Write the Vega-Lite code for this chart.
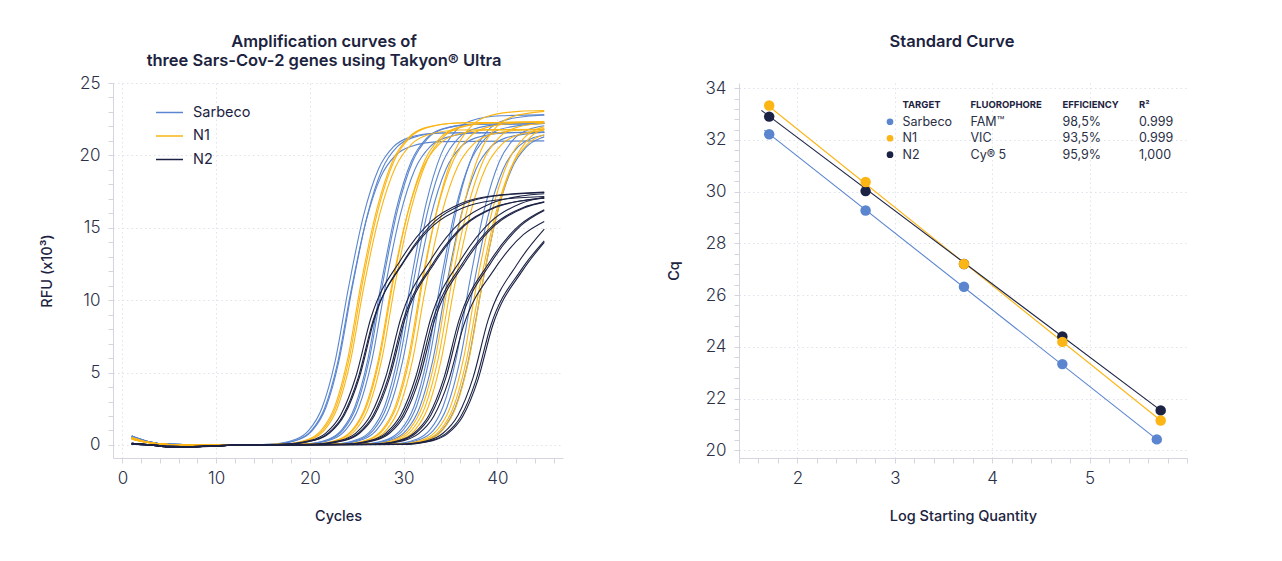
{
  "$schema": "https://vega.github.io/schema/vega-lite/v6.json",
  "background": "white",
  "padding": {"left": 39, "top": 33, "right": 10, "bottom": 10},
  "spacing": 176,
  "bounds": "flush",
  "config": {
    "view": {"stroke": null},
    "font": "Inter",
    "title": {"font": "Inter", "fontSize": 16.5, "fontWeight": 600, "color": "#1c2340", "anchor": "middle", "lineHeight": 19.5},
    "axis": {
      "domainColor": "#d3d6df",
      "tickColor": "#d3d6df",
      "tickSize": 5,
      "gridColor": "#e1e3ea",
      "gridDash": [1.5, 3],
      "labelFont": "Inter",
      "labelFontSize": 17,
      "labelFontWeight": 300,
      "labelColor": "#2b3048",
      "labelOverlap": false,
      "labelFlush": false,
      "titleFont": "Inter",
      "titleFontSize": 14.5,
      "titleFontWeight": 500,
      "titleColor": "#1c2340"
    },
    "axisX": {"labelPadding": 7.5, "titlePadding": 23},
    "axisY": {"labelPadding": 8}
  },
  "resolve": {"scale": {"color": "independent"}, "legend": {"color": "independent"}},
  "datasets": {
    "curves": [
      {"g":"Sarbeco","r":"B1a","x":1,"y":0.62},{"g":"Sarbeco","r":"B1a","x":2.5,"y":0.28},{"g":"Sarbeco","r":"B1a","x":5,"y":0.04},{"g":"Sarbeco","r":"B1a","x":11,"y":0},{"g":"Sarbeco","r":"B1a","x":15.7,"y":0.05},{"g":"Sarbeco","r":"B1a","x":18.5,"y":0.39},{"g":"Sarbeco","r":"B1a","x":19.9,"y":1.02},{"g":"Sarbeco","r":"B1a","x":21.3,"y":2.57},{"g":"Sarbeco","r":"B1a","x":22.7,"y":5.81},{"g":"Sarbeco","r":"B1a","x":24.1,"y":10.8},{"g":"Sarbeco","r":"B1a","x":25.7,"y":15.79},{"g":"Sarbeco","r":"B1a","x":27.3,"y":19.03},{"g":"Sarbeco","r":"B1a","x":28.9,"y":20.58},{"g":"Sarbeco","r":"B1a","x":30.5,"y":21.21},{"g":"Sarbeco","r":"B1a","x":33.7,"y":21.55},{"g":"Sarbeco","r":"B1a","x":45,"y":21.6},
      {"g":"Sarbeco","r":"B1b","x":1,"y":0.55},{"g":"Sarbeco","r":"B1b","x":2.5,"y":0.25},{"g":"Sarbeco","r":"B1b","x":5,"y":0.04},{"g":"Sarbeco","r":"B1b","x":11,"y":0},{"g":"Sarbeco","r":"B1b","x":15.95,"y":0.05},{"g":"Sarbeco","r":"B1b","x":18.75,"y":0.38},{"g":"Sarbeco","r":"B1b","x":20.15,"y":0.99},{"g":"Sarbeco","r":"B1b","x":21.55,"y":2.5},{"g":"Sarbeco","r":"B1b","x":22.95,"y":5.65},{"g":"Sarbeco","r":"B1b","x":24.35,"y":10.5},{"g":"Sarbeco","r":"B1b","x":25.95,"y":15.35},{"g":"Sarbeco","r":"B1b","x":27.55,"y":18.5},{"g":"Sarbeco","r":"B1b","x":29.15,"y":20.01},{"g":"Sarbeco","r":"B1b","x":30.75,"y":20.62},{"g":"Sarbeco","r":"B1b","x":33.95,"y":20.95},{"g":"Sarbeco","r":"B1b","x":45,"y":21.0},
      {"g":"Sarbeco","r":"B1c","x":1,"y":0.5},{"g":"Sarbeco","r":"B1c","x":2.5,"y":0.22},{"g":"Sarbeco","r":"B1c","x":5,"y":0.03},{"g":"Sarbeco","r":"B1c","x":11,"y":0},{"g":"Sarbeco","r":"B1c","x":16.1,"y":0.05},{"g":"Sarbeco","r":"B1c","x":18.9,"y":0.39},{"g":"Sarbeco","r":"B1c","x":20.3,"y":1.02},{"g":"Sarbeco","r":"B1c","x":21.7,"y":2.57},{"g":"Sarbeco","r":"B1c","x":23.1,"y":5.81},{"g":"Sarbeco","r":"B1c","x":24.5,"y":10.8},{"g":"Sarbeco","r":"B1c","x":26.1,"y":15.79},{"g":"Sarbeco","r":"B1c","x":27.7,"y":19.03},{"g":"Sarbeco","r":"B1c","x":29.3,"y":20.58},{"g":"Sarbeco","r":"B1c","x":30.9,"y":21.21},{"g":"Sarbeco","r":"B1c","x":34.1,"y":21.55},{"g":"Sarbeco","r":"B1c","x":45,"y":21.6},
      {"g":"Sarbeco","r":"B2a","x":1,"y":0.62},{"g":"Sarbeco","r":"B2a","x":2.5,"y":0.28},{"g":"Sarbeco","r":"B2a","x":5,"y":0.04},{"g":"Sarbeco","r":"B2a","x":11,"y":0},{"g":"Sarbeco","r":"B2a","x":19.2,"y":0.06},{"g":"Sarbeco","r":"B2a","x":22,"y":0.4},{"g":"Sarbeco","r":"B2a","x":23.4,"y":1.04},{"g":"Sarbeco","r":"B2a","x":24.8,"y":2.64},{"g":"Sarbeco","r":"B2a","x":26.2,"y":5.97},{"g":"Sarbeco","r":"B2a","x":27.6,"y":11.1},{"g":"Sarbeco","r":"B2a","x":29.2,"y":16.23},{"g":"Sarbeco","r":"B2a","x":30.8,"y":19.56},{"g":"Sarbeco","r":"B2a","x":32.4,"y":21.16},{"g":"Sarbeco","r":"B2a","x":34,"y":21.8},{"g":"Sarbeco","r":"B2a","x":37.2,"y":22.14},{"g":"Sarbeco","r":"B2a","x":45,"y":22.2},
      {"g":"Sarbeco","r":"B2b","x":1,"y":0.55},{"g":"Sarbeco","r":"B2b","x":2.5,"y":0.25},{"g":"Sarbeco","r":"B2b","x":5,"y":0.04},{"g":"Sarbeco","r":"B2b","x":11,"y":0},{"g":"Sarbeco","r":"B2b","x":19.35,"y":0.06},{"g":"Sarbeco","r":"B2b","x":22.15,"y":0.4},{"g":"Sarbeco","r":"B2b","x":23.55,"y":1.04},{"g":"Sarbeco","r":"B2b","x":24.95,"y":2.64},{"g":"Sarbeco","r":"B2b","x":26.35,"y":5.97},{"g":"Sarbeco","r":"B2b","x":27.75,"y":11.1},{"g":"Sarbeco","r":"B2b","x":29.35,"y":16.23},{"g":"Sarbeco","r":"B2b","x":30.95,"y":19.56},{"g":"Sarbeco","r":"B2b","x":32.55,"y":21.16},{"g":"Sarbeco","r":"B2b","x":34.15,"y":21.8},{"g":"Sarbeco","r":"B2b","x":37.35,"y":22.14},{"g":"Sarbeco","r":"B2b","x":45,"y":22.2},
      {"g":"Sarbeco","r":"B2c","x":1,"y":0.5},{"g":"Sarbeco","r":"B2c","x":2.5,"y":0.22},{"g":"Sarbeco","r":"B2c","x":5,"y":0.03},{"g":"Sarbeco","r":"B2c","x":11,"y":0},{"g":"Sarbeco","r":"B2c","x":19.6,"y":0.05},{"g":"Sarbeco","r":"B2c","x":22.4,"y":0.39},{"g":"Sarbeco","r":"B2c","x":23.8,"y":1.02},{"g":"Sarbeco","r":"B2c","x":25.2,"y":2.57},{"g":"Sarbeco","r":"B2c","x":26.6,"y":5.81},{"g":"Sarbeco","r":"B2c","x":28,"y":10.8},{"g":"Sarbeco","r":"B2c","x":29.6,"y":15.79},{"g":"Sarbeco","r":"B2c","x":31.2,"y":19.03},{"g":"Sarbeco","r":"B2c","x":32.8,"y":20.58},{"g":"Sarbeco","r":"B2c","x":34.4,"y":21.21},{"g":"Sarbeco","r":"B2c","x":37.6,"y":21.55},{"g":"Sarbeco","r":"B2c","x":45,"y":21.6},
      {"g":"Sarbeco","r":"B3a","x":1,"y":0.62},{"g":"Sarbeco","r":"B3a","x":2.5,"y":0.28},{"g":"Sarbeco","r":"B3a","x":5,"y":0.04},{"g":"Sarbeco","r":"B3a","x":11,"y":0},{"g":"Sarbeco","r":"B3a","x":22.4,"y":0.06},{"g":"Sarbeco","r":"B3a","x":25.2,"y":0.41},{"g":"Sarbeco","r":"B3a","x":26.6,"y":1.07},{"g":"Sarbeco","r":"B3a","x":28,"y":2.71},{"g":"Sarbeco","r":"B3a","x":29.4,"y":6.13},{"g":"Sarbeco","r":"B3a","x":30.8,"y":11.4},{"g":"Sarbeco","r":"B3a","x":32.4,"y":16.67},{"g":"Sarbeco","r":"B3a","x":34,"y":20.09},{"g":"Sarbeco","r":"B3a","x":35.6,"y":21.73},{"g":"Sarbeco","r":"B3a","x":37.2,"y":22.39},{"g":"Sarbeco","r":"B3a","x":40.4,"y":22.74},{"g":"Sarbeco","r":"B3a","x":45,"y":22.8},
      {"g":"Sarbeco","r":"B3b","x":1,"y":0.55},{"g":"Sarbeco","r":"B3b","x":2.5,"y":0.25},{"g":"Sarbeco","r":"B3b","x":5,"y":0.04},{"g":"Sarbeco","r":"B3b","x":11,"y":0},{"g":"Sarbeco","r":"B3b","x":22.6,"y":0.06},{"g":"Sarbeco","r":"B3b","x":25.4,"y":0.4},{"g":"Sarbeco","r":"B3b","x":26.8,"y":1.04},{"g":"Sarbeco","r":"B3b","x":28.2,"y":2.64},{"g":"Sarbeco","r":"B3b","x":29.6,"y":5.97},{"g":"Sarbeco","r":"B3b","x":31,"y":11.1},{"g":"Sarbeco","r":"B3b","x":32.6,"y":16.23},{"g":"Sarbeco","r":"B3b","x":34.2,"y":19.56},{"g":"Sarbeco","r":"B3b","x":35.8,"y":21.16},{"g":"Sarbeco","r":"B3b","x":37.4,"y":21.8},{"g":"Sarbeco","r":"B3b","x":40.6,"y":22.14},{"g":"Sarbeco","r":"B3b","x":45,"y":22.2},
      {"g":"Sarbeco","r":"B3c","x":1,"y":0.5},{"g":"Sarbeco","r":"B3c","x":2.5,"y":0.22},{"g":"Sarbeco","r":"B3c","x":5,"y":0.03},{"g":"Sarbeco","r":"B3c","x":11,"y":0},{"g":"Sarbeco","r":"B3c","x":22.9,"y":0.05},{"g":"Sarbeco","r":"B3c","x":25.7,"y":0.39},{"g":"Sarbeco","r":"B3c","x":27.1,"y":1.02},{"g":"Sarbeco","r":"B3c","x":28.5,"y":2.57},{"g":"Sarbeco","r":"B3c","x":29.9,"y":5.81},{"g":"Sarbeco","r":"B3c","x":31.3,"y":10.8},{"g":"Sarbeco","r":"B3c","x":32.9,"y":15.79},{"g":"Sarbeco","r":"B3c","x":34.5,"y":19.03},{"g":"Sarbeco","r":"B3c","x":36.1,"y":20.58},{"g":"Sarbeco","r":"B3c","x":37.7,"y":21.21},{"g":"Sarbeco","r":"B3c","x":40.9,"y":21.55},{"g":"Sarbeco","r":"B3c","x":45,"y":21.6},
      {"g":"Sarbeco","r":"B4a","x":1,"y":0.62},{"g":"Sarbeco","r":"B4a","x":2.5,"y":0.28},{"g":"Sarbeco","r":"B4a","x":5,"y":0.04},{"g":"Sarbeco","r":"B4a","x":11,"y":0},{"g":"Sarbeco","r":"B4a","x":25.5,"y":0.06},{"g":"Sarbeco","r":"B4a","x":28.3,"y":0.4},{"g":"Sarbeco","r":"B4a","x":29.7,"y":1.04},{"g":"Sarbeco","r":"B4a","x":31.1,"y":2.64},{"g":"Sarbeco","r":"B4a","x":32.5,"y":5.97},{"g":"Sarbeco","r":"B4a","x":33.9,"y":11.1},{"g":"Sarbeco","r":"B4a","x":35.5,"y":16.23},{"g":"Sarbeco","r":"B4a","x":37.1,"y":19.56},{"g":"Sarbeco","r":"B4a","x":38.7,"y":21.16},{"g":"Sarbeco","r":"B4a","x":40.3,"y":21.8},{"g":"Sarbeco","r":"B4a","x":43.5,"y":22.14},{"g":"Sarbeco","r":"B4a","x":45,"y":22.2},
      {"g":"Sarbeco","r":"B4b","x":1,"y":0.55},{"g":"Sarbeco","r":"B4b","x":2.5,"y":0.25},{"g":"Sarbeco","r":"B4b","x":5,"y":0.04},{"g":"Sarbeco","r":"B4b","x":11,"y":0},{"g":"Sarbeco","r":"B4b","x":25.8,"y":0.06},{"g":"Sarbeco","r":"B4b","x":28.6,"y":0.41},{"g":"Sarbeco","r":"B4b","x":30,"y":1.07},{"g":"Sarbeco","r":"B4b","x":31.4,"y":2.71},{"g":"Sarbeco","r":"B4b","x":32.8,"y":6.13},{"g":"Sarbeco","r":"B4b","x":34.2,"y":11.4},{"g":"Sarbeco","r":"B4b","x":35.8,"y":16.67},{"g":"Sarbeco","r":"B4b","x":37.4,"y":20.09},{"g":"Sarbeco","r":"B4b","x":39,"y":21.73},{"g":"Sarbeco","r":"B4b","x":40.6,"y":22.39},{"g":"Sarbeco","r":"B4b","x":43.8,"y":22.74},{"g":"Sarbeco","r":"B4b","x":45,"y":22.8},
      {"g":"Sarbeco","r":"B4c","x":1,"y":0.5},{"g":"Sarbeco","r":"B4c","x":2.5,"y":0.22},{"g":"Sarbeco","r":"B4c","x":5,"y":0.03},{"g":"Sarbeco","r":"B4c","x":11,"y":0},{"g":"Sarbeco","r":"B4c","x":26.1,"y":0.05},{"g":"Sarbeco","r":"B4c","x":28.9,"y":0.39},{"g":"Sarbeco","r":"B4c","x":30.3,"y":1.02},{"g":"Sarbeco","r":"B4c","x":31.7,"y":2.57},{"g":"Sarbeco","r":"B4c","x":33.1,"y":5.81},{"g":"Sarbeco","r":"B4c","x":34.5,"y":10.8},{"g":"Sarbeco","r":"B4c","x":36.1,"y":15.79},{"g":"Sarbeco","r":"B4c","x":37.7,"y":19.03},{"g":"Sarbeco","r":"B4c","x":39.3,"y":20.58},{"g":"Sarbeco","r":"B4c","x":40.9,"y":21.21},{"g":"Sarbeco","r":"B4c","x":44.1,"y":21.55},{"g":"Sarbeco","r":"B4c","x":45,"y":21.6},
      {"g":"Sarbeco","r":"B5a","x":1,"y":0.62},{"g":"Sarbeco","r":"B5a","x":2.5,"y":0.28},{"g":"Sarbeco","r":"B5a","x":5,"y":0.04},{"g":"Sarbeco","r":"B5a","x":11,"y":0},{"g":"Sarbeco","r":"B5a","x":28.6,"y":0.06},{"g":"Sarbeco","r":"B5a","x":31.4,"y":0.4},{"g":"Sarbeco","r":"B5a","x":32.8,"y":1.04},{"g":"Sarbeco","r":"B5a","x":34.2,"y":2.64},{"g":"Sarbeco","r":"B5a","x":35.6,"y":5.97},{"g":"Sarbeco","r":"B5a","x":37,"y":11.1},{"g":"Sarbeco","r":"B5a","x":38.6,"y":16.23},{"g":"Sarbeco","r":"B5a","x":40.2,"y":19.56},{"g":"Sarbeco","r":"B5a","x":41.8,"y":21.16},{"g":"Sarbeco","r":"B5a","x":43.4,"y":21.8},{"g":"Sarbeco","r":"B5a","x":45,"y":22.05},
      {"g":"Sarbeco","r":"B5b","x":1,"y":0.55},{"g":"Sarbeco","r":"B5b","x":2.5,"y":0.25},{"g":"Sarbeco","r":"B5b","x":5,"y":0.04},{"g":"Sarbeco","r":"B5b","x":11,"y":0},{"g":"Sarbeco","r":"B5b","x":29,"y":0.05},{"g":"Sarbeco","r":"B5b","x":31.8,"y":0.39},{"g":"Sarbeco","r":"B5b","x":33.2,"y":1.02},{"g":"Sarbeco","r":"B5b","x":34.6,"y":2.57},{"g":"Sarbeco","r":"B5b","x":36,"y":5.81},{"g":"Sarbeco","r":"B5b","x":37.4,"y":10.8},{"g":"Sarbeco","r":"B5b","x":39,"y":15.79},{"g":"Sarbeco","r":"B5b","x":40.6,"y":19.03},{"g":"Sarbeco","r":"B5b","x":42.2,"y":20.58},{"g":"Sarbeco","r":"B5b","x":43.8,"y":21.21},{"g":"Sarbeco","r":"B5b","x":45,"y":21.41},
      {"g":"Sarbeco","r":"B5c","x":1,"y":0.5},{"g":"Sarbeco","r":"B5c","x":2.5,"y":0.22},{"g":"Sarbeco","r":"B5c","x":5,"y":0.03},{"g":"Sarbeco","r":"B5c","x":11,"y":0},{"g":"Sarbeco","r":"B5c","x":29.9,"y":0.05},{"g":"Sarbeco","r":"B5c","x":32.7,"y":0.39},{"g":"Sarbeco","r":"B5c","x":34.1,"y":1.02},{"g":"Sarbeco","r":"B5c","x":35.5,"y":2.57},{"g":"Sarbeco","r":"B5c","x":36.9,"y":5.81},{"g":"Sarbeco","r":"B5c","x":38.3,"y":10.8},{"g":"Sarbeco","r":"B5c","x":39.9,"y":15.79},{"g":"Sarbeco","r":"B5c","x":41.5,"y":19.03},{"g":"Sarbeco","r":"B5c","x":43.1,"y":20.58},{"g":"Sarbeco","r":"B5c","x":44.7,"y":21.21},{"g":"Sarbeco","r":"B5c","x":45,"y":21.28},

      {"g":"N1","r":"Y1a","x":1,"y":0.5},{"g":"N1","r":"Y1a","x":2.5,"y":0.22},{"g":"N1","r":"Y1a","x":5,"y":0.03},{"g":"N1","r":"Y1a","x":11,"y":0},{"g":"N1","r":"Y1a","x":17.05,"y":0.06},{"g":"N1","r":"Y1a","x":19.85,"y":0.4},{"g":"N1","r":"Y1a","x":21.25,"y":1.05},{"g":"N1","r":"Y1a","x":22.65,"y":2.65},{"g":"N1","r":"Y1a","x":24.05,"y":6.0},{"g":"N1","r":"Y1a","x":25.45,"y":11.15},{"g":"N1","r":"Y1a","x":27.15,"y":16.3},{"g":"N1","r":"Y1a","x":28.85,"y":19.65},{"g":"N1","r":"Y1a","x":30.55,"y":21.25},{"g":"N1","r":"Y1a","x":32.25,"y":21.9},{"g":"N1","r":"Y1a","x":35.65,"y":22.24},{"g":"N1","r":"Y1a","x":45,"y":22.3},
      {"g":"N1","r":"Y1b","x":1,"y":0.45},{"g":"N1","r":"Y1b","x":2.5,"y":0.2},{"g":"N1","r":"Y1b","x":5,"y":0.03},{"g":"N1","r":"Y1b","x":11,"y":0},{"g":"N1","r":"Y1b","x":17.35,"y":0.05},{"g":"N1","r":"Y1b","x":20.15,"y":0.39},{"g":"N1","r":"Y1b","x":21.55,"y":1.02},{"g":"N1","r":"Y1b","x":22.95,"y":2.59},{"g":"N1","r":"Y1b","x":24.35,"y":5.86},{"g":"N1","r":"Y1b","x":25.75,"y":10.9},{"g":"N1","r":"Y1b","x":27.45,"y":15.94},{"g":"N1","r":"Y1b","x":29.15,"y":19.21},{"g":"N1","r":"Y1b","x":30.85,"y":20.78},{"g":"N1","r":"Y1b","x":32.55,"y":21.41},{"g":"N1","r":"Y1b","x":35.95,"y":21.75},{"g":"N1","r":"Y1b","x":45,"y":21.8},
      {"g":"N1","r":"Y1c","x":1,"y":0.42},{"g":"N1","r":"Y1c","x":2.5,"y":0.19},{"g":"N1","r":"Y1c","x":5,"y":0.02},{"g":"N1","r":"Y1c","x":11,"y":0},{"g":"N1","r":"Y1c","x":17.2,"y":0.06},{"g":"N1","r":"Y1c","x":20,"y":0.4},{"g":"N1","r":"Y1c","x":21.4,"y":1.05},{"g":"N1","r":"Y1c","x":22.8,"y":2.65},{"g":"N1","r":"Y1c","x":24.2,"y":6.0},{"g":"N1","r":"Y1c","x":25.6,"y":11.15},{"g":"N1","r":"Y1c","x":27.3,"y":16.3},{"g":"N1","r":"Y1c","x":29,"y":19.65},{"g":"N1","r":"Y1c","x":30.7,"y":21.25},{"g":"N1","r":"Y1c","x":32.4,"y":21.9},{"g":"N1","r":"Y1c","x":35.8,"y":22.24},{"g":"N1","r":"Y1c","x":45,"y":22.3},
      {"g":"N1","r":"Y2a","x":1,"y":0.5},{"g":"N1","r":"Y2a","x":2.5,"y":0.22},{"g":"N1","r":"Y2a","x":5,"y":0.03},{"g":"N1","r":"Y2a","x":11,"y":0},{"g":"N1","r":"Y2a","x":20.3,"y":0.05},{"g":"N1","r":"Y2a","x":23.1,"y":0.39},{"g":"N1","r":"Y2a","x":24.5,"y":1.02},{"g":"N1","r":"Y2a","x":25.9,"y":2.59},{"g":"N1","r":"Y2a","x":27.3,"y":5.86},{"g":"N1","r":"Y2a","x":28.7,"y":10.9},{"g":"N1","r":"Y2a","x":30.4,"y":15.94},{"g":"N1","r":"Y2a","x":32.1,"y":19.21},{"g":"N1","r":"Y2a","x":33.8,"y":20.78},{"g":"N1","r":"Y2a","x":35.5,"y":21.41},{"g":"N1","r":"Y2a","x":38.9,"y":21.75},{"g":"N1","r":"Y2a","x":45,"y":21.8},
      {"g":"N1","r":"Y2b","x":1,"y":0.45},{"g":"N1","r":"Y2b","x":2.5,"y":0.2},{"g":"N1","r":"Y2b","x":5,"y":0.03},{"g":"N1","r":"Y2b","x":11,"y":0},{"g":"N1","r":"Y2b","x":20.45,"y":0.06},{"g":"N1","r":"Y2b","x":23.25,"y":0.4},{"g":"N1","r":"Y2b","x":24.65,"y":1.05},{"g":"N1","r":"Y2b","x":26.05,"y":2.65},{"g":"N1","r":"Y2b","x":27.45,"y":6.0},{"g":"N1","r":"Y2b","x":28.85,"y":11.15},{"g":"N1","r":"Y2b","x":30.55,"y":16.3},{"g":"N1","r":"Y2b","x":32.25,"y":19.65},{"g":"N1","r":"Y2b","x":33.95,"y":21.25},{"g":"N1","r":"Y2b","x":35.65,"y":21.9},{"g":"N1","r":"Y2b","x":39.05,"y":22.24},{"g":"N1","r":"Y2b","x":45,"y":22.3},
      {"g":"N1","r":"Y2c","x":1,"y":0.42},{"g":"N1","r":"Y2c","x":2.5,"y":0.19},{"g":"N1","r":"Y2c","x":5,"y":0.02},{"g":"N1","r":"Y2c","x":11,"y":0},{"g":"N1","r":"Y2c","x":20.7,"y":0.06},{"g":"N1","r":"Y2c","x":23.5,"y":0.4},{"g":"N1","r":"Y2c","x":24.9,"y":1.05},{"g":"N1","r":"Y2c","x":26.3,"y":2.65},{"g":"N1","r":"Y2c","x":27.7,"y":6.0},{"g":"N1","r":"Y2c","x":29.1,"y":11.15},{"g":"N1","r":"Y2c","x":30.8,"y":16.3},{"g":"N1","r":"Y2c","x":32.5,"y":19.65},{"g":"N1","r":"Y2c","x":34.2,"y":21.25},{"g":"N1","r":"Y2c","x":35.9,"y":21.9},{"g":"N1","r":"Y2c","x":39.3,"y":22.24},{"g":"N1","r":"Y2c","x":45,"y":22.3},
      {"g":"N1","r":"Y3a","x":1,"y":0.5},{"g":"N1","r":"Y3a","x":2.5,"y":0.22},{"g":"N1","r":"Y3a","x":5,"y":0.03},{"g":"N1","r":"Y3a","x":11,"y":0},{"g":"N1","r":"Y3a","x":23.5,"y":0.06},{"g":"N1","r":"Y3a","x":26.3,"y":0.4},{"g":"N1","r":"Y3a","x":27.7,"y":1.05},{"g":"N1","r":"Y3a","x":29.1,"y":2.65},{"g":"N1","r":"Y3a","x":30.5,"y":6.0},{"g":"N1","r":"Y3a","x":31.9,"y":11.15},{"g":"N1","r":"Y3a","x":33.6,"y":16.3},{"g":"N1","r":"Y3a","x":35.3,"y":19.65},{"g":"N1","r":"Y3a","x":37,"y":21.25},{"g":"N1","r":"Y3a","x":38.7,"y":21.9},{"g":"N1","r":"Y3a","x":42.1,"y":22.24},{"g":"N1","r":"Y3a","x":45,"y":22.3},
      {"g":"N1","r":"Y3b","x":1,"y":0.45},{"g":"N1","r":"Y3b","x":2.5,"y":0.2},{"g":"N1","r":"Y3b","x":5,"y":0.03},{"g":"N1","r":"Y3b","x":11,"y":0},{"g":"N1","r":"Y3b","x":23.7,"y":0.06},{"g":"N1","r":"Y3b","x":26.5,"y":0.42},{"g":"N1","r":"Y3b","x":27.9,"y":1.09},{"g":"N1","r":"Y3b","x":29.3,"y":2.75},{"g":"N1","r":"Y3b","x":30.7,"y":6.21},{"g":"N1","r":"Y3b","x":32.1,"y":11.55},{"g":"N1","r":"Y3b","x":33.8,"y":16.89},{"g":"N1","r":"Y3b","x":35.5,"y":20.35},{"g":"N1","r":"Y3b","x":37.2,"y":22.01},{"g":"N1","r":"Y3b","x":38.9,"y":22.68},{"g":"N1","r":"Y3b","x":42.3,"y":23.04},{"g":"N1","r":"Y3b","x":45,"y":23.1},
      {"g":"N1","r":"Y3c","x":1,"y":0.42},{"g":"N1","r":"Y3c","x":2.5,"y":0.19},{"g":"N1","r":"Y3c","x":5,"y":0.02},{"g":"N1","r":"Y3c","x":11,"y":0},{"g":"N1","r":"Y3c","x":23.95,"y":0.05},{"g":"N1","r":"Y3c","x":26.75,"y":0.39},{"g":"N1","r":"Y3c","x":28.15,"y":1.02},{"g":"N1","r":"Y3c","x":29.55,"y":2.59},{"g":"N1","r":"Y3c","x":30.95,"y":5.86},{"g":"N1","r":"Y3c","x":32.35,"y":10.9},{"g":"N1","r":"Y3c","x":34.05,"y":15.94},{"g":"N1","r":"Y3c","x":35.75,"y":19.21},{"g":"N1","r":"Y3c","x":37.45,"y":20.78},{"g":"N1","r":"Y3c","x":39.15,"y":21.41},{"g":"N1","r":"Y3c","x":42.55,"y":21.75},{"g":"N1","r":"Y3c","x":45,"y":21.8},
      {"g":"N1","r":"Y4a","x":1,"y":0.5},{"g":"N1","r":"Y4a","x":2.5,"y":0.22},{"g":"N1","r":"Y4a","x":5,"y":0.03},{"g":"N1","r":"Y4a","x":11,"y":0},{"g":"N1","r":"Y4a","x":26.45,"y":0.06},{"g":"N1","r":"Y4a","x":29.25,"y":0.42},{"g":"N1","r":"Y4a","x":30.65,"y":1.09},{"g":"N1","r":"Y4a","x":32.05,"y":2.75},{"g":"N1","r":"Y4a","x":33.45,"y":6.21},{"g":"N1","r":"Y4a","x":34.85,"y":11.55},{"g":"N1","r":"Y4a","x":36.55,"y":16.89},{"g":"N1","r":"Y4a","x":38.25,"y":20.35},{"g":"N1","r":"Y4a","x":39.95,"y":22.01},{"g":"N1","r":"Y4a","x":41.65,"y":22.68},{"g":"N1","r":"Y4a","x":45,"y":23.04},
      {"g":"N1","r":"Y4b","x":1,"y":0.45},{"g":"N1","r":"Y4b","x":2.5,"y":0.2},{"g":"N1","r":"Y4b","x":5,"y":0.03},{"g":"N1","r":"Y4b","x":11,"y":0},{"g":"N1","r":"Y4b","x":26.7,"y":0.06},{"g":"N1","r":"Y4b","x":29.5,"y":0.4},{"g":"N1","r":"Y4b","x":30.9,"y":1.05},{"g":"N1","r":"Y4b","x":32.3,"y":2.65},{"g":"N1","r":"Y4b","x":33.7,"y":6.0},{"g":"N1","r":"Y4b","x":35.1,"y":11.15},{"g":"N1","r":"Y4b","x":36.8,"y":16.3},{"g":"N1","r":"Y4b","x":38.5,"y":19.65},{"g":"N1","r":"Y4b","x":40.2,"y":21.25},{"g":"N1","r":"Y4b","x":41.9,"y":21.9},{"g":"N1","r":"Y4b","x":45,"y":22.24},
      {"g":"N1","r":"Y4c","x":1,"y":0.42},{"g":"N1","r":"Y4c","x":2.5,"y":0.19},{"g":"N1","r":"Y4c","x":5,"y":0.02},{"g":"N1","r":"Y4c","x":11,"y":0},{"g":"N1","r":"Y4c","x":27,"y":0.05},{"g":"N1","r":"Y4c","x":29.8,"y":0.39},{"g":"N1","r":"Y4c","x":31.2,"y":1.02},{"g":"N1","r":"Y4c","x":32.6,"y":2.59},{"g":"N1","r":"Y4c","x":34,"y":5.86},{"g":"N1","r":"Y4c","x":35.4,"y":10.9},{"g":"N1","r":"Y4c","x":37.1,"y":15.94},{"g":"N1","r":"Y4c","x":38.8,"y":19.21},{"g":"N1","r":"Y4c","x":40.5,"y":20.78},{"g":"N1","r":"Y4c","x":42.2,"y":21.41},{"g":"N1","r":"Y4c","x":45,"y":21.74},
      {"g":"N1","r":"Y5a","x":1,"y":0.5},{"g":"N1","r":"Y5a","x":2.5,"y":0.22},{"g":"N1","r":"Y5a","x":5,"y":0.03},{"g":"N1","r":"Y5a","x":11,"y":0},{"g":"N1","r":"Y5a","x":29.4,"y":0.06},{"g":"N1","r":"Y5a","x":32.2,"y":0.4},{"g":"N1","r":"Y5a","x":33.6,"y":1.05},{"g":"N1","r":"Y5a","x":35,"y":2.65},{"g":"N1","r":"Y5a","x":36.4,"y":6.0},{"g":"N1","r":"Y5a","x":37.8,"y":11.15},{"g":"N1","r":"Y5a","x":39.5,"y":16.3},{"g":"N1","r":"Y5a","x":41.2,"y":19.65},{"g":"N1","r":"Y5a","x":42.9,"y":21.25},{"g":"N1","r":"Y5a","x":44.6,"y":21.9},{"g":"N1","r":"Y5a","x":45,"y":21.98},
      {"g":"N1","r":"Y5b","x":1,"y":0.45},{"g":"N1","r":"Y5b","x":2.5,"y":0.2},{"g":"N1","r":"Y5b","x":5,"y":0.03},{"g":"N1","r":"Y5b","x":11,"y":0},{"g":"N1","r":"Y5b","x":29.7,"y":0.05},{"g":"N1","r":"Y5b","x":32.5,"y":0.39},{"g":"N1","r":"Y5b","x":33.9,"y":1.02},{"g":"N1","r":"Y5b","x":35.3,"y":2.59},{"g":"N1","r":"Y5b","x":36.7,"y":5.86},{"g":"N1","r":"Y5b","x":38.1,"y":10.9},{"g":"N1","r":"Y5b","x":39.8,"y":15.94},{"g":"N1","r":"Y5b","x":41.5,"y":19.21},{"g":"N1","r":"Y5b","x":43.2,"y":20.78},{"g":"N1","r":"Y5b","x":44.9,"y":21.41},{"g":"N1","r":"Y5b","x":45,"y":21.43},
      {"g":"N1","r":"Y5c","x":1,"y":0.42},{"g":"N1","r":"Y5c","x":2.5,"y":0.19},{"g":"N1","r":"Y5c","x":5,"y":0.02},{"g":"N1","r":"Y5c","x":11,"y":0},{"g":"N1","r":"Y5c","x":30,"y":0.06},{"g":"N1","r":"Y5c","x":32.8,"y":0.4},{"g":"N1","r":"Y5c","x":34.2,"y":1.05},{"g":"N1","r":"Y5c","x":35.6,"y":2.65},{"g":"N1","r":"Y5c","x":37,"y":6.0},{"g":"N1","r":"Y5c","x":38.4,"y":11.15},{"g":"N1","r":"Y5c","x":40.1,"y":16.3},{"g":"N1","r":"Y5c","x":41.8,"y":19.65},{"g":"N1","r":"Y5c","x":43.5,"y":21.25},{"g":"N1","r":"Y5c","x":45,"y":21.85},

      {"g":"N2","r":"N1a","x":1,"y":0.08},{"g":"N2","r":"N1a","x":3,"y":0},{"g":"N2","r":"N1a","x":5,"y":-0.13},{"g":"N2","r":"N1a","x":7.5,"y":-0.13},{"g":"N2","r":"N1a","x":12,"y":-0.02},{"g":"N2","r":"N1a","x":16.9,"y":0.04},{"g":"N2","r":"N1a","x":20.1,"y":0.32},{"g":"N2","r":"N1a","x":21.7,"y":0.82},{"g":"N2","r":"N1a","x":23.3,"y":2.08},{"g":"N2","r":"N1a","x":24.9,"y":4.71},{"g":"N2","r":"N1a","x":26.5,"y":8.75},{"g":"N2","r":"N1a","x":29.7,"y":12.79},{"g":"N2","r":"N1a","x":32.9,"y":15.42},{"g":"N2","r":"N1a","x":36.1,"y":16.68},{"g":"N2","r":"N1a","x":39.3,"y":17.19},{"g":"N2","r":"N1a","x":45,"y":17.46},
      {"g":"N2","r":"N1b","x":1,"y":0.12},{"g":"N2","r":"N1b","x":3,"y":0.02},{"g":"N2","r":"N1b","x":5,"y":-0.1},{"g":"N2","r":"N1b","x":7.5,"y":-0.12},{"g":"N2","r":"N1b","x":12,"y":-0.02},{"g":"N2","r":"N1b","x":17.15,"y":0.04},{"g":"N2","r":"N1b","x":20.35,"y":0.31},{"g":"N2","r":"N1b","x":21.95,"y":0.81},{"g":"N2","r":"N1b","x":23.55,"y":2.05},{"g":"N2","r":"N1b","x":25.15,"y":4.63},{"g":"N2","r":"N1b","x":26.75,"y":8.6},{"g":"N2","r":"N1b","x":29.95,"y":12.57},{"g":"N2","r":"N1b","x":33.15,"y":15.15},{"g":"N2","r":"N1b","x":36.35,"y":16.39},{"g":"N2","r":"N1b","x":39.55,"y":16.89},{"g":"N2","r":"N1b","x":45,"y":17.16},
      {"g":"N2","r":"N1c","x":1,"y":0.05},{"g":"N2","r":"N1c","x":3,"y":-0.02},{"g":"N2","r":"N1c","x":5,"y":-0.14},{"g":"N2","r":"N1c","x":7.5,"y":-0.11},{"g":"N2","r":"N1c","x":12,"y":-0.01},{"g":"N2","r":"N1c","x":17.3,"y":0.04},{"g":"N2","r":"N1c","x":20.5,"y":0.32},{"g":"N2","r":"N1c","x":22.1,"y":0.82},{"g":"N2","r":"N1c","x":23.7,"y":2.08},{"g":"N2","r":"N1c","x":25.3,"y":4.71},{"g":"N2","r":"N1c","x":26.9,"y":8.75},{"g":"N2","r":"N1c","x":30.1,"y":12.79},{"g":"N2","r":"N1c","x":33.3,"y":15.42},{"g":"N2","r":"N1c","x":36.5,"y":16.68},{"g":"N2","r":"N1c","x":39.7,"y":17.19},{"g":"N2","r":"N1c","x":45,"y":17.44},
      {"g":"N2","r":"N2a","x":1,"y":0.08},{"g":"N2","r":"N2a","x":3,"y":0},{"g":"N2","r":"N2a","x":5,"y":-0.13},{"g":"N2","r":"N2a","x":7.5,"y":-0.13},{"g":"N2","r":"N2a","x":12,"y":-0.02},{"g":"N2","r":"N2a","x":20.1,"y":0.04},{"g":"N2","r":"N2a","x":23.3,"y":0.32},{"g":"N2","r":"N2a","x":24.9,"y":0.82},{"g":"N2","r":"N2a","x":26.5,"y":2.08},{"g":"N2","r":"N2a","x":28.1,"y":4.71},{"g":"N2","r":"N2a","x":29.7,"y":8.75},{"g":"N2","r":"N2a","x":32.9,"y":12.79},{"g":"N2","r":"N2a","x":36.1,"y":15.42},{"g":"N2","r":"N2a","x":39.3,"y":16.68},{"g":"N2","r":"N2a","x":42.5,"y":17.19},{"g":"N2","r":"N2a","x":45,"y":17.35},
      {"g":"N2","r":"N2b","x":1,"y":0.12},{"g":"N2","r":"N2b","x":3,"y":0.02},{"g":"N2","r":"N2b","x":5,"y":-0.1},{"g":"N2","r":"N2b","x":7.5,"y":-0.12},{"g":"N2","r":"N2b","x":12,"y":-0.02},{"g":"N2","r":"N2b","x":20.35,"y":0.04},{"g":"N2","r":"N2b","x":23.55,"y":0.31},{"g":"N2","r":"N2b","x":25.15,"y":0.81},{"g":"N2","r":"N2b","x":26.75,"y":2.05},{"g":"N2","r":"N2b","x":28.35,"y":4.63},{"g":"N2","r":"N2b","x":29.95,"y":8.6},{"g":"N2","r":"N2b","x":33.15,"y":12.57},{"g":"N2","r":"N2b","x":36.35,"y":15.15},{"g":"N2","r":"N2b","x":39.55,"y":16.39},{"g":"N2","r":"N2b","x":42.75,"y":16.89},{"g":"N2","r":"N2b","x":45,"y":17.05},
      {"g":"N2","r":"N2c","x":1,"y":0.05},{"g":"N2","r":"N2c","x":3,"y":-0.02},{"g":"N2","r":"N2c","x":5,"y":-0.14},{"g":"N2","r":"N2c","x":7.5,"y":-0.11},{"g":"N2","r":"N2c","x":12,"y":-0.01},{"g":"N2","r":"N2c","x":20.5,"y":0.04},{"g":"N2","r":"N2c","x":23.7,"y":0.31},{"g":"N2","r":"N2c","x":25.3,"y":0.81},{"g":"N2","r":"N2c","x":26.9,"y":2.05},{"g":"N2","r":"N2c","x":28.5,"y":4.63},{"g":"N2","r":"N2c","x":30.1,"y":8.6},{"g":"N2","r":"N2c","x":33.3,"y":12.57},{"g":"N2","r":"N2c","x":36.5,"y":15.15},{"g":"N2","r":"N2c","x":39.7,"y":16.39},{"g":"N2","r":"N2c","x":42.9,"y":16.89},{"g":"N2","r":"N2c","x":45,"y":17.04},
      {"g":"N2","r":"N3a","x":1,"y":0.08},{"g":"N2","r":"N3a","x":3,"y":0},{"g":"N2","r":"N3a","x":5,"y":-0.13},{"g":"N2","r":"N3a","x":7.5,"y":-0.13},{"g":"N2","r":"N3a","x":12,"y":-0.02},{"g":"N2","r":"N3a","x":23.3,"y":0.04},{"g":"N2","r":"N3a","x":26.5,"y":0.32},{"g":"N2","r":"N3a","x":28.1,"y":0.82},{"g":"N2","r":"N3a","x":29.7,"y":2.08},{"g":"N2","r":"N3a","x":31.3,"y":4.71},{"g":"N2","r":"N3a","x":32.9,"y":8.75},{"g":"N2","r":"N3a","x":36.1,"y":12.79},{"g":"N2","r":"N3a","x":39.3,"y":15.42},{"g":"N2","r":"N3a","x":42.5,"y":16.68},{"g":"N2","r":"N3a","x":45,"y":17.11},
      {"g":"N2","r":"N3b","x":1,"y":0.12},{"g":"N2","r":"N3b","x":3,"y":0.02},{"g":"N2","r":"N3b","x":5,"y":-0.1},{"g":"N2","r":"N3b","x":7.5,"y":-0.12},{"g":"N2","r":"N3b","x":12,"y":-0.02},{"g":"N2","r":"N3b","x":23.5,"y":0.04},{"g":"N2","r":"N3b","x":26.7,"y":0.31},{"g":"N2","r":"N3b","x":28.3,"y":0.81},{"g":"N2","r":"N3b","x":29.9,"y":2.05},{"g":"N2","r":"N3b","x":31.5,"y":4.63},{"g":"N2","r":"N3b","x":33.1,"y":8.6},{"g":"N2","r":"N3b","x":36.3,"y":12.57},{"g":"N2","r":"N3b","x":39.5,"y":15.15},{"g":"N2","r":"N3b","x":42.7,"y":16.39},{"g":"N2","r":"N3b","x":45,"y":16.79},
      {"g":"N2","r":"N3c","x":1,"y":0.05},{"g":"N2","r":"N3c","x":3,"y":-0.02},{"g":"N2","r":"N3c","x":5,"y":-0.14},{"g":"N2","r":"N3c","x":7.5,"y":-0.11},{"g":"N2","r":"N3c","x":12,"y":-0.01},{"g":"N2","r":"N3c","x":23.7,"y":0.04},{"g":"N2","r":"N3c","x":26.9,"y":0.31},{"g":"N2","r":"N3c","x":28.5,"y":0.81},{"g":"N2","r":"N3c","x":30.1,"y":2.05},{"g":"N2","r":"N3c","x":31.7,"y":4.63},{"g":"N2","r":"N3c","x":33.3,"y":8.6},{"g":"N2","r":"N3c","x":36.5,"y":12.57},{"g":"N2","r":"N3c","x":39.7,"y":15.15},{"g":"N2","r":"N3c","x":42.9,"y":16.39},{"g":"N2","r":"N3c","x":45,"y":16.77},
      {"g":"N2","r":"N4a","x":1,"y":0.08},{"g":"N2","r":"N4a","x":3,"y":0},{"g":"N2","r":"N4a","x":5,"y":-0.13},{"g":"N2","r":"N4a","x":7.5,"y":-0.13},{"g":"N2","r":"N4a","x":12,"y":-0.02},{"g":"N2","r":"N4a","x":26.3,"y":0.04},{"g":"N2","r":"N4a","x":29.5,"y":0.31},{"g":"N2","r":"N4a","x":31.1,"y":0.81},{"g":"N2","r":"N4a","x":32.7,"y":2.05},{"g":"N2","r":"N4a","x":34.3,"y":4.63},{"g":"N2","r":"N4a","x":35.9,"y":8.6},{"g":"N2","r":"N4a","x":39.1,"y":12.57},{"g":"N2","r":"N4a","x":42.3,"y":15.15},{"g":"N2","r":"N4a","x":45,"y":16.25},
      {"g":"N2","r":"N4b","x":1,"y":0.12},{"g":"N2","r":"N4b","x":3,"y":0.02},{"g":"N2","r":"N4b","x":5,"y":-0.1},{"g":"N2","r":"N4b","x":7.5,"y":-0.12},{"g":"N2","r":"N4b","x":12,"y":-0.02},{"g":"N2","r":"N4b","x":26.5,"y":0.04},{"g":"N2","r":"N4b","x":29.7,"y":0.31},{"g":"N2","r":"N4b","x":31.3,"y":0.81},{"g":"N2","r":"N4b","x":32.9,"y":2.05},{"g":"N2","r":"N4b","x":34.5,"y":4.63},{"g":"N2","r":"N4b","x":36.1,"y":8.6},{"g":"N2","r":"N4b","x":39.3,"y":12.57},{"g":"N2","r":"N4b","x":42.5,"y":15.15},{"g":"N2","r":"N4b","x":45,"y":16.2},
      {"g":"N2","r":"N4c","x":1,"y":0.05},{"g":"N2","r":"N4c","x":3,"y":-0.02},{"g":"N2","r":"N4c","x":5,"y":-0.14},{"g":"N2","r":"N4c","x":7.5,"y":-0.11},{"g":"N2","r":"N4c","x":12,"y":-0.01},{"g":"N2","r":"N4c","x":26.8,"y":0.04},{"g":"N2","r":"N4c","x":30,"y":0.3},{"g":"N2","r":"N4c","x":31.6,"y":0.78},{"g":"N2","r":"N4c","x":33.2,"y":1.96},{"g":"N2","r":"N4c","x":34.8,"y":4.44},{"g":"N2","r":"N4c","x":36.4,"y":8.25},{"g":"N2","r":"N4c","x":39.6,"y":12.06},{"g":"N2","r":"N4c","x":42.8,"y":14.54},{"g":"N2","r":"N4c","x":45,"y":15.44},
      {"g":"N2","r":"N5a","x":1,"y":0.08},{"g":"N2","r":"N5a","x":3,"y":0},{"g":"N2","r":"N5a","x":5,"y":-0.13},{"g":"N2","r":"N5a","x":7.5,"y":-0.13},{"g":"N2","r":"N5a","x":12,"y":-0.02},{"g":"N2","r":"N5a","x":29.4,"y":0.04},{"g":"N2","r":"N5a","x":32.6,"y":0.31},{"g":"N2","r":"N5a","x":34.2,"y":0.81},{"g":"N2","r":"N5a","x":35.8,"y":2.05},{"g":"N2","r":"N5a","x":37.4,"y":4.63},{"g":"N2","r":"N5a","x":39,"y":8.6},{"g":"N2","r":"N5a","x":42.2,"y":12.57},{"g":"N2","r":"N5a","x":45,"y":14.9},
      {"g":"N2","r":"N5b","x":1,"y":0.12},{"g":"N2","r":"N5b","x":3,"y":0.02},{"g":"N2","r":"N5b","x":5,"y":-0.1},{"g":"N2","r":"N5b","x":7.5,"y":-0.12},{"g":"N2","r":"N5b","x":12,"y":-0.02},{"g":"N2","r":"N5b","x":29.7,"y":0.04},{"g":"N2","r":"N5b","x":32.9,"y":0.3},{"g":"N2","r":"N5b","x":34.5,"y":0.78},{"g":"N2","r":"N5b","x":36.1,"y":1.96},{"g":"N2","r":"N5b","x":37.7,"y":4.44},{"g":"N2","r":"N5b","x":39.3,"y":8.25},{"g":"N2","r":"N5b","x":42.5,"y":12.06},{"g":"N2","r":"N5b","x":45,"y":14.1},
      {"g":"N2","r":"N5c","x":1,"y":0.05},{"g":"N2","r":"N5c","x":3,"y":-0.02},{"g":"N2","r":"N5c","x":5,"y":-0.14},{"g":"N2","r":"N5c","x":7.5,"y":-0.11},{"g":"N2","r":"N5c","x":12,"y":-0.01},{"g":"N2","r":"N5c","x":29.9,"y":0.04},{"g":"N2","r":"N5c","x":33.1,"y":0.3},{"g":"N2","r":"N5c","x":34.7,"y":0.78},{"g":"N2","r":"N5c","x":36.3,"y":1.96},{"g":"N2","r":"N5c","x":37.9,"y":4.44},{"g":"N2","r":"N5c","x":39.5,"y":8.25},{"g":"N2","r":"N5c","x":42.7,"y":12.06},{"g":"N2","r":"N5c","x":45,"y":14.0}
    ],
    "fit": [
      {"g":"N1","lsq":1.7,"cq":33.32},{"g":"N1","lsq":5.73,"cq":21.15},
      {"g":"N2","lsq":1.63,"cq":33.14},{"g":"N2","lsq":5.73,"cq":21.54},
      {"g":"Sarbeco","lsq":1.66,"cq":32.38},{"g":"Sarbeco","lsq":5.69,"cq":20.42}
    ],
    "std": [
      {"g":"N2","lsq":1.71,"cq":32.9},{"g":"N2","lsq":2.7,"cq":30.02},{"g":"N2","lsq":3.71,"cq":27.2},{"g":"N2","lsq":4.72,"cq":24.4},{"g":"N2","lsq":5.73,"cq":21.54},
      {"g":"N1","lsq":1.71,"cq":33.33},{"g":"N1","lsq":2.7,"cq":30.37},{"g":"N1","lsq":3.71,"cq":27.2},{"g":"N1","lsq":4.72,"cq":24.19},{"g":"N1","lsq":5.73,"cq":21.15},
      {"g":"Sarbeco","lsq":1.71,"cq":32.22},{"g":"Sarbeco","lsq":2.7,"cq":29.27},{"g":"Sarbeco","lsq":3.71,"cq":26.32},{"g":"Sarbeco","lsq":4.72,"cq":23.33},{"g":"Sarbeco","lsq":5.69,"cq":20.42}
    ],
    "tbl": [
      {"row":0,"col":1,"t":"TARGET"},{"row":0,"col":2,"t":"FLUOROPHORE"},{"row":0,"col":3,"t":"EFFICIENCY"},{"row":0,"col":4,"t":"R²"},
      {"row":1,"col":1,"t":"Sarbeco"},{"row":1,"col":2,"t":"FAM™"},{"row":1,"col":3,"t":"98,5%"},{"row":1,"col":4,"t":"0.999"},
      {"row":2,"col":1,"t":"N1"},{"row":2,"col":2,"t":"VIC"},{"row":2,"col":3,"t":"93,5%"},{"row":2,"col":4,"t":"0.999"},
      {"row":3,"col":1,"t":"N2"},{"row":3,"col":2,"t":"Cy® 5"},{"row":3,"col":3,"t":"95,9%"},{"row":3,"col":4,"t":"1,000"}
    ],
    "dots": [
      {"row":1,"col":0,"g":"Sarbeco"},{"row":2,"col":0,"g":"N1"},{"row":3,"col":0,"g":"N2"}
    ]
  },
  "hconcat": [
    {
      "width": 450,
      "height": 375,
      "title": {"text": ["Amplification curves of", "three Sars-Cov-2 genes using Takyon® Ultra"], "dx": -14, "offset": 4.5},
      "data": {"name": "curves"},
      "mark": {"type": "line", "interpolate": "monotone", "strokeWidth": 1.1},
      "encoding": {
        "x": {
          "field": "x", "type": "quantitative",
          "scale": {"domain": [-1, 47], "nice": false, "zero": false},
          "axis": {
            "title": "Cycles",
            "values": [0,2,4,6,8,10,12,14,16,18,20,22,24,26,28,30,32,34,36,38,40,42,44,46],
            "labelExpr": "datum.value % 10 === 0 ? datum.label : ''",
            "gridOpacity": {"condition": {"test": "datum.value % 10 === 0", "value": 1}, "value": 0},
            "labelOverlap": false
          }
        },
        "y": {
          "field": "y", "type": "quantitative",
          "scale": {"domain": [-0.9, 25], "nice": false, "zero": false},
          "axis": {
            "title": "RFU (x10³)",
            "values": [0,1,2,3,4,5,6,7,8,9,10,11,12,13,14,15,16,17,18,19,20,21,22,23,24,25],
            "labelExpr": "datum.value % 5 === 0 ? datum.label : ''",
            "gridOpacity": {"condition": {"test": "datum.value % 5 === 0", "value": 1}, "value": 0},
            "labelOverlap": false,
            "titlePadding": 25
          }
        },
        "color": {
          "field": "g", "type": "nominal",
          "scale": {"domain": ["Sarbeco", "N1", "N2"], "range": ["#5b86cf", "#fbb515", "#1c2244"]},
          "legend": {
            "title": null, "orient": "none", "legendX": 42, "legendY": 15,
            "symbolType": "stroke", "symbolSize": 729, "symbolStrokeWidth": 1.5,
            "labelFont": "Inter", "labelFontSize": 14.5, "labelColor": "#1c2340", "labelOffset": 9,
            "rowPadding": 2.5, "padding": 0
          }
        },
        "detail": {"field": "r", "type": "nominal"}
      }
    },
    {
      "width": 448,
      "height": 375,
      "title": {"text": "Standard Curve", "dx": -11, "offset": 29},
      "layer": [
        {
          "encoding": {
            "x": {
              "field": "lsq", "type": "quantitative",
              "scale": {"domain": [1.4, 6.0], "nice": false, "zero": false},
              "axis": {
                "orient": "bottom", "title": null, "labels": false, "grid": false,
                "values": [1.4,1.6,1.8,2,2.2,2.4,2.6,2.8,3,3.2,3.4,3.6,3.8,4,4.2,4.4,4.6,4.8,5,5.2,5.4,5.6,5.8,6]
              }
            },
            "y": {
              "field": "cq", "type": "quantitative",
              "scale": {"domain": [19.7, 34.2], "nice": false, "zero": false},
              "axis": {
                "orient": "left", "title": null, "labels": false, "grid": false,
                "values": [20,20.4,20.8,21.2,21.6,22,22.4,22.8,23.2,23.6,24,24.4,24.8,25.2,25.6,26,26.4,26.8,27.2,27.6,28,28.4,28.8,29.2,29.6,30,30.4,30.8,31.2,31.6,32,32.4,32.8,33.2,33.6,34]
              }
            },
            "color": {
              "field": "g", "type": "nominal",
              "scale": {"domain": ["Sarbeco", "N1", "N2"], "range": ["#5b86cf", "#fbb515", "#1c2244"]},
              "legend": null
            }
          },
          "layer": [
            {"data": {"name": "fit"}, "mark": {"type": "line", "strokeWidth": 1.1}},
            {"data": {"name": "std"}, "mark": {"type": "circle", "size": 110, "opacity": 1}}
          ]
        },
        {
          "data": {"name": "std"},
          "mark": {"type": "circle", "opacity": 0},
          "encoding": {
            "x": {
              "field": "lsq", "type": "quantitative",
              "scale": {"domain": [1.4, 6.0], "nice": false, "zero": false},
              "axis": {
                "orient": "bottom", "title": "Log Starting Quantity", "format": "d",
                "values": [2, 3, 4, 5], "domain": false, "ticks": false, "grid": true,
                "labelPadding": 12.5
              }
            },
            "y": {
              "field": "cq", "type": "quantitative",
              "scale": {"domain": [19.7, 34.2], "nice": false, "zero": false},
              "axis": {
                "orient": "left", "title": "Cq", "format": "d",
                "values": [20, 22, 24, 26, 28, 30, 32, 34], "domain": false, "ticks": false, "grid": true,
                "labelPadding": 13, "titlePadding": 24
              }
            }
          }
        },
        {
          "encoding": {
            "x": {"field": "col", "type": "quantitative", "scale": {"domain": [0, 1, 2, 3, 4], "range": [151, 163.5, 231.5, 323.5, 400], "nice": false, "zero": false}, "axis": null},
            "y": {"field": "row", "type": "quantitative", "scale": {"domain": [0, 3], "range": [22.3, 71.7], "nice": false, "zero": false}, "axis": null}
          },
          "layer": [
            {
              "data": {"name": "tbl"},
              "transform": [{"filter": "datum.row === 0"}],
              "mark": {"type": "text", "align": "left", "baseline": "middle", "fontSize": 9.5, "fontWeight": 700, "color": "#1c2340", "font": "Inter"},
              "encoding": {"text": {"field": "t", "type": "nominal"}}
            },
            {
              "data": {"name": "tbl"},
              "transform": [{"filter": "datum.row > 0"}],
              "mark": {"type": "text", "align": "left", "baseline": "middle", "fontSize": 12.5, "fontWeight": 400, "color": "#2a2f45", "font": "Inter"},
              "encoding": {"text": {"field": "t", "type": "nominal"}}
            },
            {
              "data": {"name": "dots"},
              "mark": {"type": "circle", "size": 45, "opacity": 1},
              "encoding": {"color": {"field": "g", "type": "nominal", "legend": null}}
            }
          ]
        }
      ],
      "resolve": {"scale": {"x": "independent", "y": "independent"}, "axis": {"x": "independent", "y": "independent"}}
    }
  ]
}
